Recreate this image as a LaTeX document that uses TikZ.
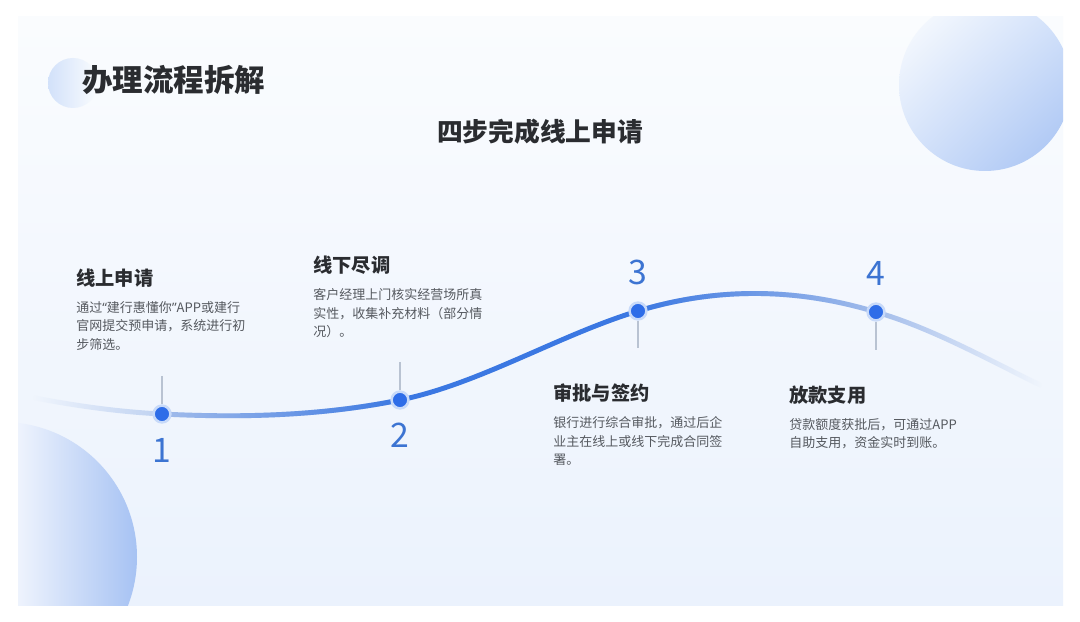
\documentclass[tikz,border=0pt]{standalone}
\usepackage{fontspec}
\setmainfont{Noto Sans CJK SC}
\newfontfamily\quotefont{Noto Sans}
\usetikzlibrary{fadings, shadings}
\definecolor{slidetop}{HTML}{FAFCFE}
\definecolor{slidebot}{HTML}{EBF2FD}
\definecolor{inkdark}{HTML}{2A2C30}
\definecolor{inkgrey}{HTML}{55595F}
\definecolor{stepblue}{HTML}{3C74D2}
\definecolor{dotblue}{HTML}{2E6DE8}
\definecolor{halo}{HTML}{C8DAF9}
\definecolor{lineblue}{HTML}{3B78E2}
\definecolor{linepale}{HTML}{A3BDEB}
\definecolor{tickgrey}{HTML}{B9C3D2}
\definecolor{orbpale}{HTML}{EEF3FD}
\definecolor{orbmid}{HTML}{D2E1FA}
\definecolor{orbdeep}{HTML}{A6C2F3}
\newcommand{\openq}{{\quotefont “}}
\newcommand{\closeq}{{\quotefont ”}}

\begin{document}
\begin{tikzpicture}[x=0.025cm, y=-0.025cm,
  dot/.style={circle, fill=dotblue, draw=halo, line width=1.8pt, minimum size=0.42cm, inner sep=0},
  num/.style={text=stepblue, inner sep=0, font=\fontsize{24}{28}\selectfont},
  steptitle/.style={anchor=west, inner sep=0, text=inkdark, font=\fontsize{13.7}{16}\selectfont\bfseries},
  stepdesc/.style={anchor=north west, inner sep=0, align=left, text=inkgrey, font=\fontsize{9.25}{13.3}\selectfont},
  tick/.style={draw=tickgrey, line width=0.85pt},
  wave/.style={line width=3.5pt, line cap=round}]
  % Canvas
  \useasboundingbox (0,0) rectangle (1080,622);
  \fill[white] (0,0) rectangle (1080,622);
  \shade[top color=slidetop, bottom color=slidebot] (18,17) rectangle (1063,605);
  % Decorative circles
  \begin{scope}
    \clip (18,17) rectangle (1063,605);
    \clip (985,85) circle (86);
    \shade[upper left=slidetop, upper right=orbmid, lower left=orbmid, lower right=orbdeep] (899,17) rectangle (1063,171);
  \end{scope}
  \begin{scope}
    \clip (18,17) rectangle (1063,605);
    \clip (2,557) circle (135);
    \shade[left color=orbpale, right color=orbdeep] (18,420) rectangle (138,605);
  \end{scope}
  \shade[left color=orbmid, right color=slidetop] (73,83) circle (25);
  % Titles
  \node[anchor=west, inner sep=0, text=inkdark, font=\fontsize{21.7}{26}\selectfont\bfseries] (title) at (82,80) {办理流程拆解};
  \node[inner sep=0, text=inkdark, font=\fontsize{18.3}{22}\selectfont\bfseries] (subtitle) at (540,132) {四步完成线上申请};
  % Wave
  \coordinate (w0) at (35,398);
  \coordinate (p1) at (162,414);
  \coordinate (p2) at (400,400);
  \coordinate (p3) at (638,311);
  \coordinate (p4) at (876,312);
  \coordinate (w5) at (1040,385);
  \draw[wave, linepale!70, path fading=west] (w0) .. controls (77,406) and (120,412) .. (p1);
  \draw[wave, linepale] (p1) .. controls (241,418) and (321,416) .. (p2);
  \draw[wave, lineblue, path fading=west] (p1) .. controls (241,418) and (321,416) .. (p2);
  \draw[wave, lineblue] (p2) .. controls (479,384) and (559,335) .. (p3);
  \draw[wave, linepale] (p3) .. controls (717,287) and (797,288) .. (p4);
  \draw[wave, lineblue, path fading=east] (p3) .. controls (717,287) and (797,288) .. (p4);
  \draw[wave, linepale, path fading=east] (p4) .. controls (931,328) and (985,358) .. (w5);
  % Steps
  \node[dot] (d1) at (p1) {};
  \node[dot] (d2) at (p2) {};
  \node[dot] (d3) at (p3) {};
  \node[dot] (d4) at (p4) {};
  \coordinate (t1) at (162,376);
  \coordinate (t2) at (400,362);
  \coordinate (t3) at (638,348);
  \coordinate (t4) at (876,350);
  \draw[tick] (t1) -- (d1);
  \draw[tick] (t2) -- (d2);
  \draw[tick] (t3) -- (d3);
  \draw[tick] (t4) -- (d4);
  \node[num] (n1) at (162,450) {1};
  \node[num] (n2) at (400,435) {2};
  \node[num] (n3) at (638,272) {3};
  \node[num] (n4) at (876,273) {4};
  % Texts
  \node[steptitle] (s1) at (76,278) {线上申请};
  \node[stepdesc] (s1t) at (76,301) {通过\openq 建行惠懂你\closeq APP或建行\\官网提交预申请，系统进行初\\步筛选。};
  \node[steptitle] (s2) at (313,265) {线下尽调};
  \node[stepdesc] (s2t) at (313,288) {客户经理上门核实经营场所真\\实性，收集补充材料（部分情\\况）。};
  \node[steptitle] (s3) at (553,393) {审批与签约};
  \node[stepdesc] (s3t) at (553,416) {银行进行综合审批，通过后企\\业主在线上或线下完成合同签\\署。};
  \node[steptitle] (s4) at (789,395) {放款支用};
  \node[stepdesc] (s4t) at (789,418) {贷款额度获批后，可通过APP\\自助支用，资金实时到账。};
\end{tikzpicture}
\end{document}
